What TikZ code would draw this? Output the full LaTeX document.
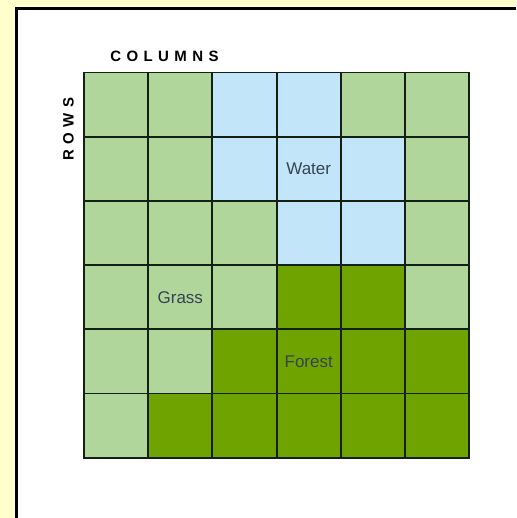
\documentclass[tikz,border=0pt]{standalone}
\usepackage{fontspec}
\setmainfont{Liberation Sans}
\usepackage{xcolor}
\definecolor{cPaper}{HTML}{FFFFCC}
\definecolor{cGrass}{HTML}{B1D69C}
\definecolor{cWater}{HTML}{C3E5FA}
\definecolor{cForest}{HTML}{6FA400}
\definecolor{cLine}{HTML}{142014}
\definecolor{cText}{HTML}{364350}
\usepackage{tikz}
\tikzset{
  cell/.style={draw=cLine,line width=1.9pt,minimum size=64.2pt,inner sep=0pt},
  cell-g/.style={cell,fill=cGrass},
  cell-w/.style={cell,fill=cWater},
  cell-f/.style={cell,fill=cForest},
  cell-label/.style={text=cText,font=\fontsize{17}{20}\selectfont},
  axis-label/.style={font=\fontsize{15}{17}\selectfont\bfseries\addfontfeature{LetterSpace=36},inner sep=0pt},
}

\begin{document}
\begin{tikzpicture}[x=1pt,y=-1pt]
  \useasboundingbox (0,0) rectangle (516,518);
  \fill[cPaper] (0,0) rectangle (516,518);
  \fill[white] (16.5,8.7) rectangle (516,518);
  \draw[line width=3pt] (516,8.7) -- (16.5,8.7) -- (16.5,518);
  % raster cells, row by row
  \foreach \line [count=\r] in {{g,g,w,w,g,g},{g,g,w,w,w,g},{g,g,g,w,w,g},%
      {g,g,g,f,f,g},{g,g,f,f,f,f},{g,f,f,f,f,f}} {
    \foreach \kind [count=\c] in \line {
      \node[cell-\kind] (c\r\c) at ({84+(\c-0.5)*64.2},{72.5+(\r-0.5)*64.2}) {};
    }
  }
  \node[cell-label] (water)  at (c24) {Water};
  \node[cell-label] (grass)  at (c42) {Grass};
  \node[cell-label] (forest) at (c54) {Forest};
  \node[axis-label] (cols) at (164.5,56.5) {COLUMNS};
  \node[axis-label,rotate=90] (rows) at (68.5,129) {ROWS};
\end{tikzpicture}
\end{document}
